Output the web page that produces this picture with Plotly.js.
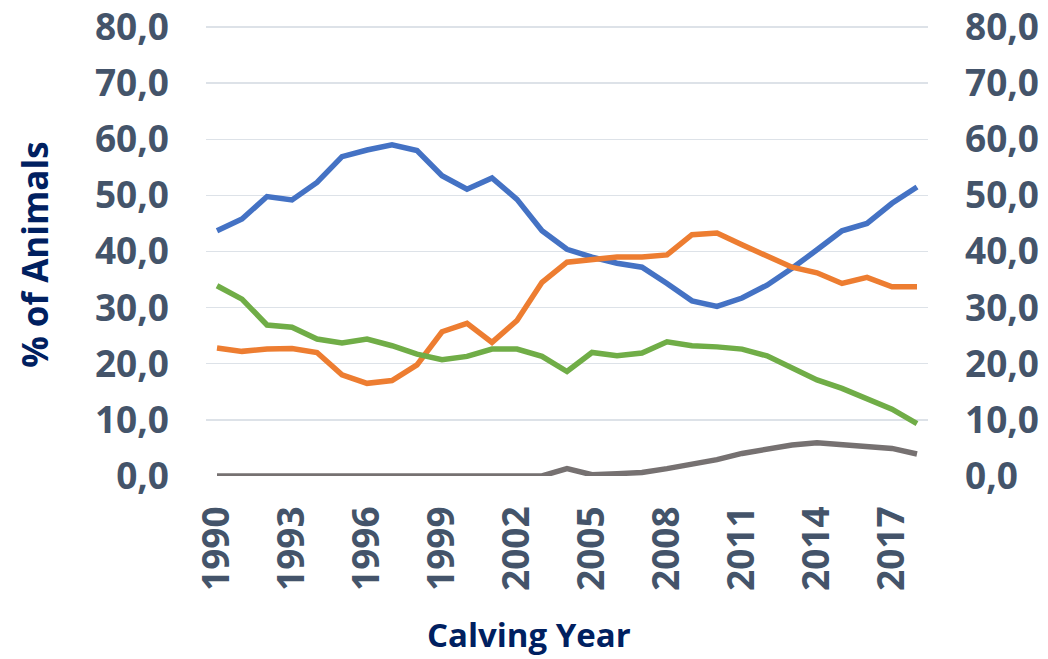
<!DOCTYPE html>
<html>
<head>
<meta charset="utf-8">
<script src="https://cdn.plot.ly/plotly-3.0.1.min.js"></script>
<style>html,body{margin:0;padding:0;background:#fff;}#chart{width:1048px;height:659px;}</style>
</head>
<body>
<div id="chart"></div>
<script>
const years = [1990,1991,1992,1993,1994,1995,1996,1997,1998,1999,2000,2001,2002,2003,2004,2005,2006,2007,2008,2009,2010,2011,2012,2013,2014,2015,2016,2017,2018];
const blueSeries   = [43.7,45.8,49.8,49.2,52.3,56.9,58.1,59.0,58.0,53.5,51.1,53.1,49.3,43.7,40.4,39.0,37.9,37.2,34.3,31.2,30.2,31.7,34.0,37.0,40.3,43.7,45.0,48.6,51.5];
const orangeSeries = [22.8,22.2,22.6,22.7,22.0,18.0,16.5,17.0,19.8,25.7,27.2,23.8,27.7,34.5,38.1,38.5,39.0,39.0,39.4,43.0,43.3,41.2,39.2,37.2,36.2,34.3,35.4,33.7,33.7];
const greenSeries  = [33.9,31.5,26.9,26.5,24.4,23.7,24.4,23.2,21.7,20.7,21.3,22.6,22.6,21.3,18.6,22.0,21.4,21.9,23.9,23.2,23.0,22.6,21.4,19.2,17.1,15.6,13.7,11.9,9.3];
const graySeries   = [0,0,0,0,0,0,0,0,0,0,0,0,0,0,1.3,0.2,0.4,0.6,1.3,2.1,2.9,4.0,4.8,5.5,5.9,5.6,5.3,4.9,3.9];
const xTickVals = [1990,1993,1996,1999,2002,2005,2008,2011,2014,2017];
const xTickText = ["1990","1993","1996","1999","2002","2005","2008","2011","2014","2017"];
const yTickVals = [0,10,20,30,40,50,60,70,80];

const fontFam = "Open Sans, Noto Sans, sans-serif";
const tickFont = {family: fontFam, size: 37, color: "#44546A", weight: "bold"};
const titleFont = {family: fontFam, size: 33, color: "#002060", weight: "bold"};

function line(y, color, axis) {
  return {x: years, y: y, type: "scatter", mode: "lines", yaxis: axis,
    line: {color: color, width: 5.5}, hoverinfo: "x+y"};
}
const traces = [
  line(blueSeries, "#4472C4", "y"),
  line(orangeSeries, "#ED7D31", "y"),
  line(greenSeries, "#70AD47", "y"),
  line(graySeries, "#767171", "y2")
];

const yBase = {range: [-0.02, 80.2], tickvals: yTickVals, tickformat: ".1f", tickfont: tickFont,
  ticks: "", showline: false, zeroline: false, fixedrange: true, ticklabelstandoff: 36};

const layout = {
  width: 1048, height: 659,
  margin: {l: 206, r: 120, t: 26, b: 183},
  paper_bgcolor: "#ffffff", plot_bgcolor: "#ffffff",
  separators: ",.",
  showlegend: false,
  xaxis: {range: [1989.56, 2018.44], tickvals: xTickVals, ticktext: xTickText, tickangle: -90,
    tickfont: tickFont, showgrid: false, zeroline: false, showline: false, ticks: "",
    ticklabelstandoff: 22},
  yaxis: Object.assign({}, yBase, {side: "left", showgrid: true, gridcolor: "#DDE2E8", gridwidth: 1.5}),
  yaxis2: Object.assign({}, yBase, {side: "right", overlaying: "y", showgrid: false}),
  annotations: [
    {text: "Calving Year", xref: "paper", yref: "paper", x: 0.447, y: -0.352,
      xanchor: "center", yanchor: "middle", showarrow: false, font: titleFont},
    {text: "% of Animals", xref: "paper", yref: "paper", x: -0.238, y: 0.492,
      xanchor: "center", yanchor: "middle", showarrow: false, textangle: -90,
      font: Object.assign({}, titleFont, {size: 35})}
  ]
};
Plotly.newPlot("chart", traces, layout, {displayModeBar: false, staticPlot: true});
</script>
</body>
</html>
